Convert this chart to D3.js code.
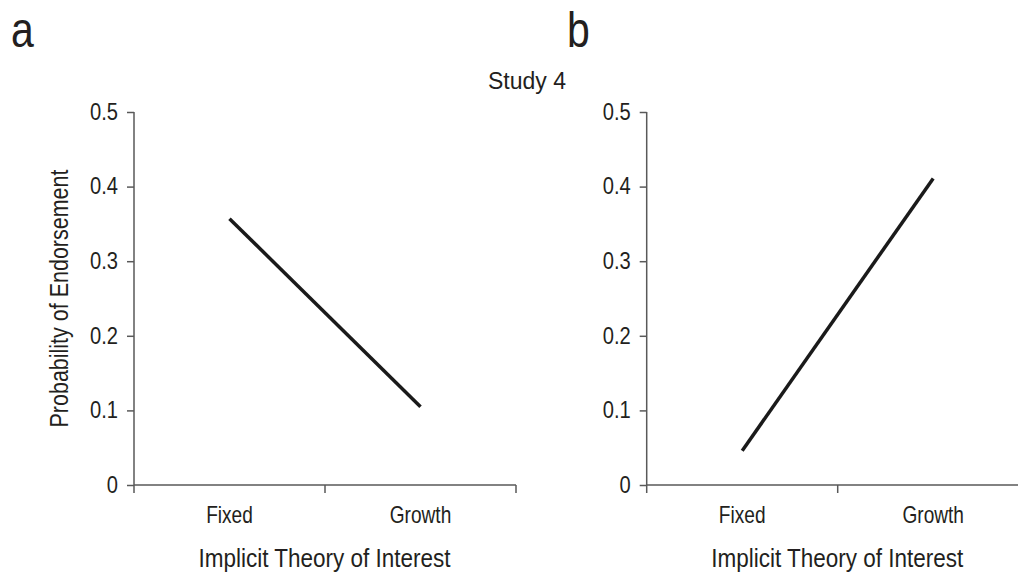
<!DOCTYPE html>
<html>
<head>
<meta charset="utf-8">
<script src="https://cdn.jsdelivr.net/npm/d3@7"></script>
<style>
  html, body { margin: 0; padding: 0; background: #fff; }
  svg { display: block; }
  text { font-family: "Liberation Sans", Arial, sans-serif; fill: #231f20; }
</style>
</head>
<body>
<svg id="chart" width="1018" height="573"></svg>
<script>
const categories = ["Fixed", "Growth"];
const panelAValues = [0.357, 0.105];
const panelBValues = [0.046, 0.411];
const yTicks = [0, 0.1, 0.2, 0.3, 0.4, 0.5];
const yTickLabels = ["0", "0.1", "0.2", "0.3", "0.4", "0.5"];
const panelLabels = ["a", "b"];
const title = "Study 4";
const xTitle = "Implicit Theory of Interest";
const yTitle = "Probability of Endorsement";

(function () {
const svg = d3.select("#chart");
const plotTop = 112, plotBottom = 485, plotW = 382;
const panels = [
  { x0: 134, values: panelAValues, label: panelLabels[0], lx: 11, showY: true },
  { x0: 646.7, values: panelBValues, label: panelLabels[1], lx: 567, showY: false }
];

const y = d3.scaleLinear().domain([0, 0.5]).range([plotBottom, plotTop]);
const axisColor = "#595959";
const ff = '"Liberation Sans", Arial, sans-serif';

function ctext(parent, x, yy, str, size, sx, anchor, rot) {
  return parent.append("text")
    .attr("transform", `translate(${x},${yy})${rot ? " rotate(" + rot + ")" : ""} scale(${sx},1)`)
    .attr("text-anchor", anchor || "start")
    .attr("font-size", size)
    .text(str);
}

panels.forEach(p => {
  const g = svg.append("g");
  const x = d3.scaleBand().domain(categories).range([p.x0, p.x0 + plotW]).padding(0);

  const tickSx = 0.875;
  const ya = g.append("g").attr("transform", `translate(${p.x0},0)`)
    .call(d3.axisLeft(y).tickValues(yTicks).tickFormat((d, i) => yTickLabels[i]).tickSize(7).tickPadding(9));
  ya.select(".domain").attr("stroke", axisColor).attr("stroke-width", 1.5).attr("d", `M0,${plotTop}V${plotBottom}`);
  ya.selectAll(".tick line").attr("stroke", axisColor).attr("stroke-width", 1.5);
  ya.selectAll(".tick text").attr("font-size", 23).attr("fill", "#231f20").attr("font-family", ff)
    .attr("x", -16 / tickSx).attr("transform", `scale(${tickSx},1)`);

  const edges = [p.x0, p.x0 + x.step(), p.x0 + 2 * x.step()];
  g.append("line").attr("x1", p.x0).attr("x2", p.x0 + plotW).attr("y1", plotBottom).attr("y2", plotBottom)
    .attr("stroke", axisColor).attr("stroke-width", 1.5);
  g.selectAll(".xt").data(edges).enter().append("line")
    .attr("x1", d => d).attr("x2", d => d).attr("y1", plotBottom).attr("y2", plotBottom + 8)
    .attr("stroke", axisColor).attr("stroke-width", 1.5);
  categories.forEach(c => ctext(g, x(c) + x.bandwidth() / 2, 523, c, 23, 0.83, "middle"));

  ctext(g, p.x0 + plotW / 2 - 0.5, 567, xTitle, 25, 0.9, "middle");

  const line = d3.line().x((d, i) => x(categories[i]) + x.bandwidth() / 2).y(d => y(d));
  g.append("path").datum(p.values).attr("d", line)
    .attr("fill", "none").attr("stroke", "#1a1a1a").attr("stroke-width", 3.5);

  ctext(svg, p.lx, 47, p.label, 50, 0.82, "start");

  if (p.showY) {
    ctext(svg, 68, (plotTop + plotBottom) / 2, yTitle, 25, 0.86, "middle", -90);
  }
});

ctext(svg, 527, 89, title, 23, 1, "middle");
})();
</script>
</body>
</html>
